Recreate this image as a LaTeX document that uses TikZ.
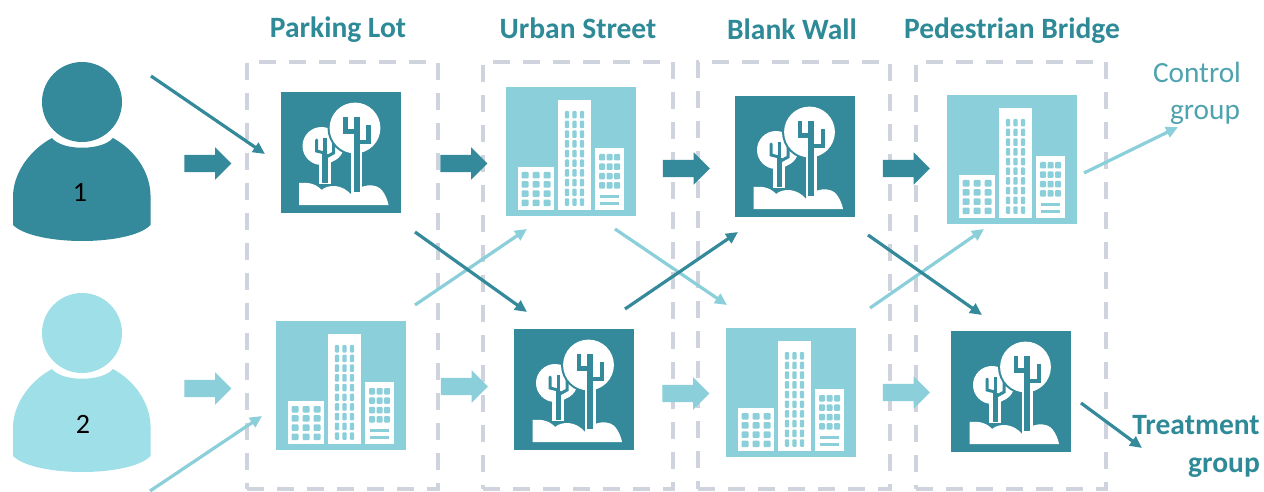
\documentclass[tikz,border=0pt]{standalone}
\usepackage{fontspec}
\setmainfont{Carlito}
\usetikzlibrary{shapes.arrows,arrows.meta}
\definecolor{dk}{HTML}{348A9A}
\definecolor{lt}{HTML}{8ACFD9}
\definecolor{pl}{HTML}{9FDFE8}
\definecolor{dashc}{HTML}{CFD3DD}
\definecolor{headc}{HTML}{2F8A98}
\definecolor{ctrlc}{HTML}{4FA3AE}
\tikzset{
  x=1pt,y=-1pt,
  panel/.style={draw=dashc,line width=4.2pt,dash pattern=on 17pt off 13pt},
  blockdk/.style={single arrow,fill=dk,minimum width=32pt,minimum height=47pt,inner sep=0pt,text height=17pt,text depth=0pt,single arrow head extend=7.5pt,single arrow head indent=0pt},
  blocklt/.style={blockdk,fill=lt},
  thindk/.style={draw=dk,line width=3.2pt,-{Triangle[length=12pt,width=11pt]}},
  thinlt/.style={draw=lt,line width=3.2pt,-{Triangle[length=12pt,width=11pt]}},
  head/.style={font=\fontsize{29.5}{32}\selectfont\bfseries,text=headc,inner sep=0pt},
  ctrl/.style={font=\fontsize{29.3}{32}\selectfont,text=ctrlc,inner sep=0pt},
  num/.style={font=\fontsize{28}{30}\selectfont,text=black,inner sep=0pt},
  treeicon/.pic={
    \fill[dk] (0,0) rectangle (120,121);
    % ground
    \fill[white] (18.7,113) -- (18.7,91) .. controls (28,90) and (36,92) .. (41,98)
      .. controls (48,92) and (62,92) .. (71,103)
      .. controls (78,92) and (96,90) .. (102,99) .. controls (105,103) and (107,108) .. (108,113) -- cycle;
    % small tree
    \fill[white] (41,54) circle (19);
    \fill[white] (50,50) -- (62,60) .. controls (59,68) and (50,71) .. (44,71) -- cycle;
    \fill[white] (38,60) rectangle (50,92);
    \draw[dk,line width=5.5pt] (44.5,62) -- (44.5,91);
    \draw[dk,line width=3.4pt] (44.5,46) -- (44.5,66);
    \draw[dk,line width=3pt,line cap=round] (36,48) -- (36,59) -- (44,61);
    \draw[dk,line width=3pt,line cap=round] (53,51) -- (53,61) -- (44,66);
    % big tree
    \fill[dk] (74.5,36) circle (27.5);
    \fill[white] (74.5,36) circle (25.4);
    \fill[white] (70.5,55) rectangle (81.5,104);
    \draw[dk,line width=6pt] (76,25) -- (76,100);
    \draw[dk,line width=4.2pt] (65,25) -- (65,39.5) -- (76,39.5);
    \draw[dk,line width=4.2pt] (88,33) -- (88,50) -- (76,50);
  },
  buildicon/.pic={
    \fill[lt] (0,0) rectangle (130,129);
    \fill[white] (12,80) rectangle (48,123);
    \fill[white] (52,13) rectangle (85,123);
    \fill[white] (89,61) rectangle (118,123);
    \foreach \c in {19,30,41}{\foreach \r in {0,...,3}{
      \fill[lt,rounded corners=1pt] ({\c-3.5},{85+\r*9.2}) rectangle ({\c+3.5},{91.5+\r*9.2});}}
    \foreach \c in {61,68.5,76}{\foreach \r in {0,...,9}{
      \fill[lt,rounded corners=1pt] ({\c-2.2},{24+\r*9.7}) rectangle ({\c+2.2},{31.5+\r*9.7});}}
    \foreach \c in {96,103.5,111}{\foreach \r in {0,...,3}{
      \fill[lt,rounded corners=1pt] ({\c-3},{67+\r*9.4}) rectangle ({\c+3},{73.5+\r*9.4});}}
    \fill[lt] (94,108) rectangle (113,111);
    \fill[lt] (94,115) rectangle (113,118);
  },
  personshape/.pic={
    \fill[pic actions] (82,102) circle (40);
    \fill[pic actions] (52,138) .. controls (62,151) and (102,151) .. (113,138)
      .. controls (135,150) and (150,172) .. (150.5,195) -- (150.5,225)
      .. controls (140,236) and (110,241) .. (82,241)
      .. controls (55,241) and (24,236) .. (13,225) -- (13,195)
      .. controls (14,172) and (30,150) .. (52,138) -- cycle;
  }
}
\begin{document}
\begin{tikzpicture}
\useasboundingbox (0,0) rectangle (1264,492);
\fill[white] (0,0) rectangle (1264,492);
% panels
\node[panel,minimum width=191pt,minimum height=427pt,inner sep=0pt] (p1) at (342.5,275.5) {};
\node[panel,minimum width=190pt,minimum height=427pt,inner sep=0pt] (p2) at (578,275.5) {};
\node[panel,minimum width=192pt,minimum height=427pt,inner sep=0pt] (p3) at (794,275.5) {};
\node[panel,minimum width=190pt,minimum height=427pt,inner sep=0pt] (p4) at (1011,275.5) {};
% persons
\pic[fill=dk] at (0,0) {personshape};
\pic[fill=pl] at (0,231) {personshape};
\node[num] (n1) at (80,192) {1};
\node[num] (n2) at (83,424) {2};
% icons
\pic (a1) at (280.5,92) {treeicon};
\pic (a2) at (506,87) {buildicon};
\pic (a3) at (735,96) {treeicon};
\pic (a4) at (947,95) {buildicon};
\pic (b1) at (276,321) {buildicon};
\pic (b2) at (514,329) {treeicon};
\pic (b3) at (726,328) {buildicon};
\pic (b4) at (951,331) {treeicon};
% block arrows
\node[blockdk] (ba0) at (203.5,163.5) {};
\node[blockdk] (ba1) at (459.5,163.5) {};
\node[blockdk] (ba2) at (682,168.5) {};
\node[blockdk] (ba3) at (902,168.5) {};
\node[blocklt] (bb0) at (203.5,388.5) {};
\node[blocklt] (bb1) at (460,386.5) {};
\node[blocklt] (bb2) at (681.5,393.5) {};
\node[blocklt] (bb3) at (902,392.5) {};
% connector ends
\coordinate (s1) at (151,76);   \coordinate (e1) at (265,154);
\coordinate (s2) at (150,491);  \coordinate (e2) at (262,416);
\coordinate (s3) at (415,232);  \coordinate (e3) at (527,312);
\coordinate (s4) at (415,305);  \coordinate (e4) at (527,229);
\coordinate (s5) at (615,229);  \coordinate (e5) at (727,305);
\coordinate (s6) at (625,309);  \coordinate (e6) at (738,232);
\coordinate (s7) at (868,235);  \coordinate (e7) at (982,315);
\coordinate (s8) at (870,308);  \coordinate (e8) at (984,229);
\coordinate (s9) at (1084,173); \coordinate (e9) at (1178,127);
\coordinate (s10) at (1081,403);\coordinate (e10) at (1142,448);
\draw[thindk] (s1) -- (e1);
\draw[thinlt] (s2) -- (e2);
\draw[thinlt] (s4) -- (e4);
\draw[thindk] (s3) -- (e3);
\draw[thinlt] (s5) -- (e5);
\draw[thindk] (s6) -- (e6);
\draw[thinlt] (s8) -- (e8);
\draw[thindk] (s7) -- (e7);
\draw[thinlt] (s9) -- (e9);
\draw[thindk] (s10) -- (e10);
% labels
\node[head] (h1) at (338,30) {Parking Lot};
\node[head] (h2) at (578,28) {Urban Street};
\node[head] (h3) at (792,29) {Blank Wall};
\node[head] (h4) at (1012,31) {Pedestrian Bridge};
\node[ctrl] (c1) at (1197,72) {Control};
\node[ctrl] (c2) at (1205,115) {group};
\node[head] (t1) at (1196,425) {Treatment};
\node[head] (t2) at (1224,468) {group};
\end{tikzpicture}
\end{document}
